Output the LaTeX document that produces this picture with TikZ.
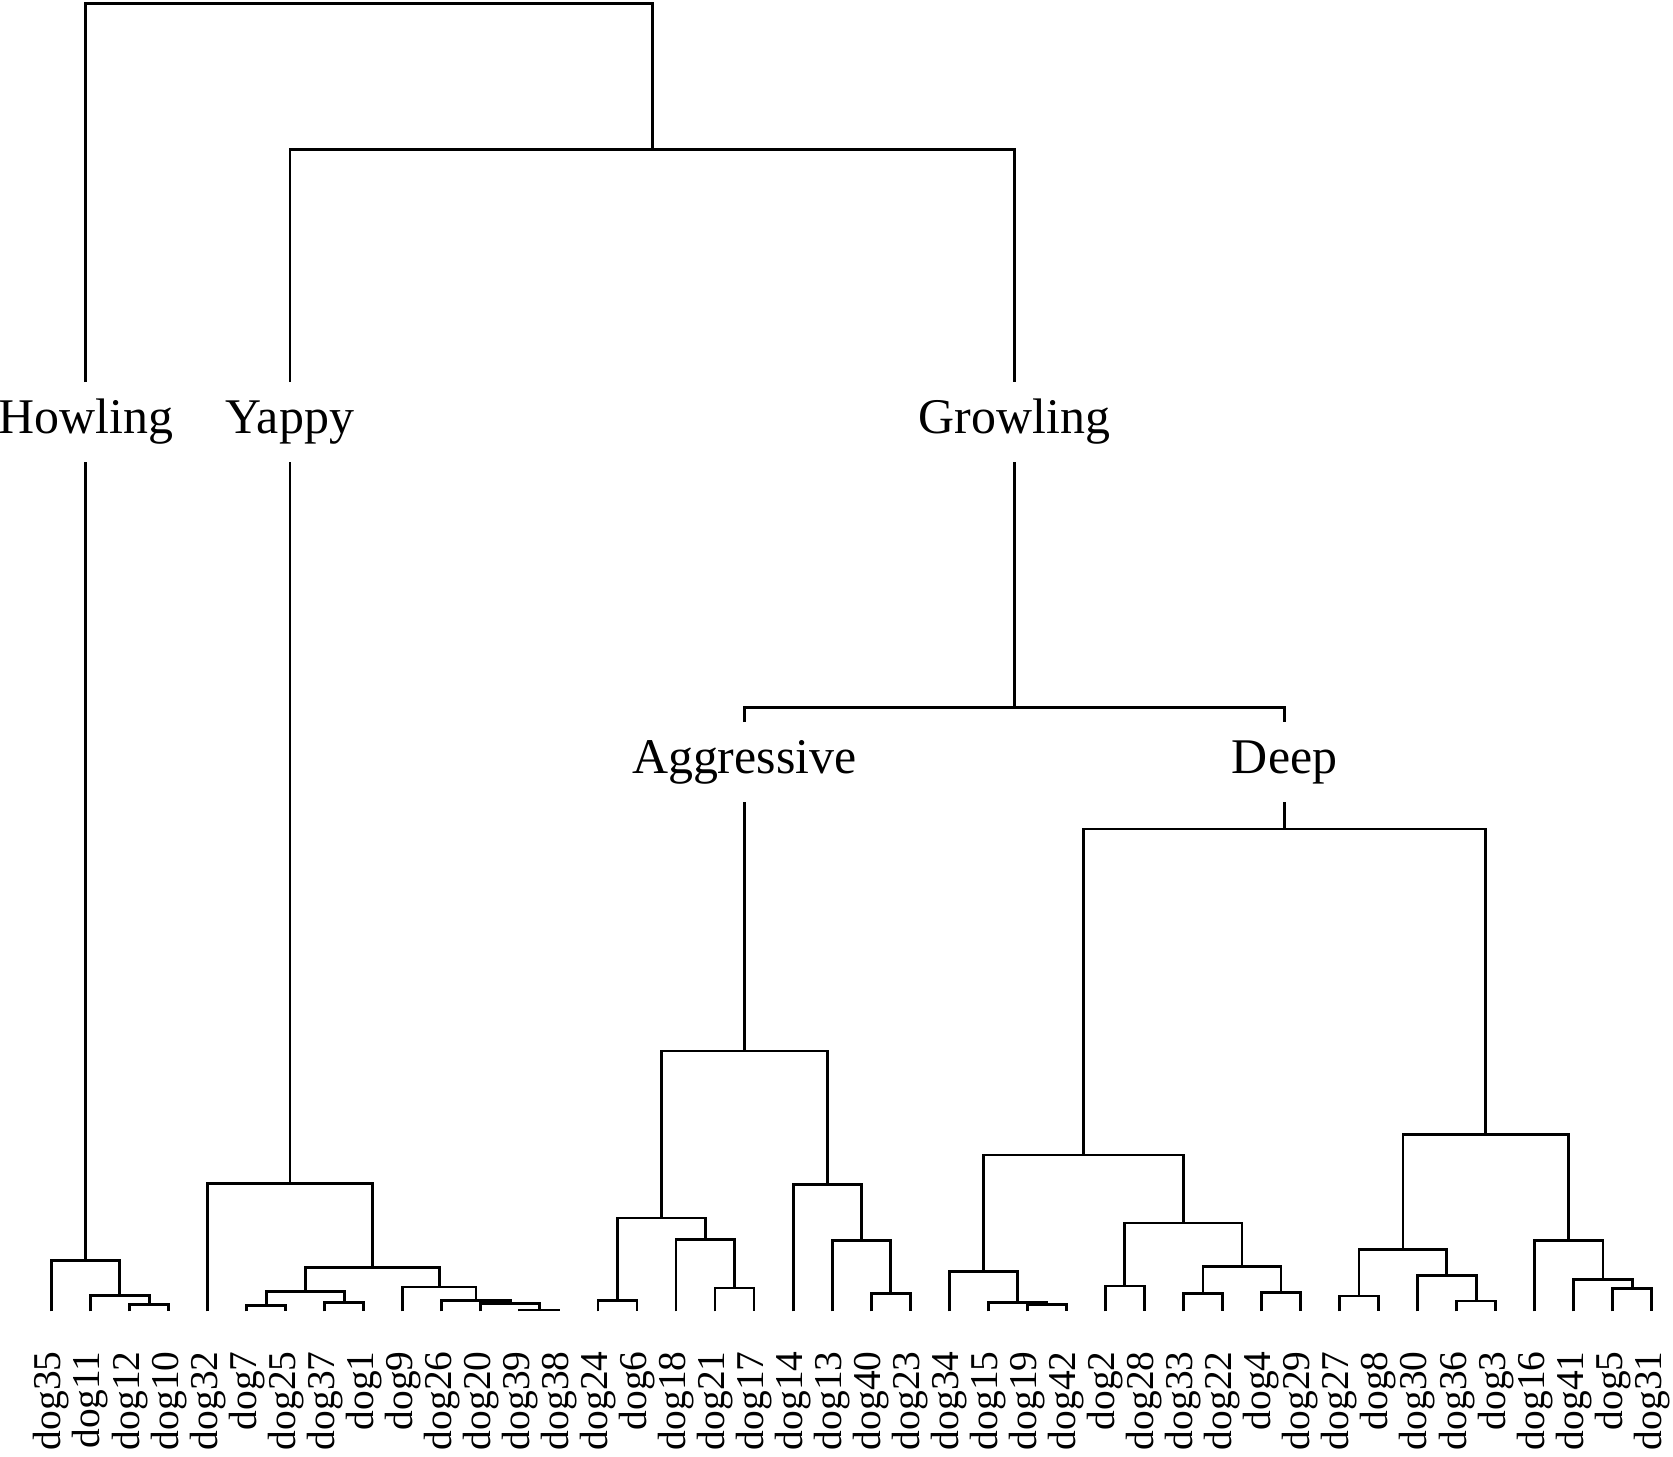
\documentclass[tikz,border=0pt]{standalone}
\usepackage{fontspec}
\setmainfont{Liberation Serif}
\usetikzlibrary{calc}

\tikzset{
    branch/.style={line width=0.75pt},
    leaflbl/.style={rotate=90, anchor=east, inner sep=0pt, font=\fontsize{10.5}{12}\selectfont},
    grouplbl/.style={anchor=base, inner sep=4pt, text height=9.4pt, text depth=3.4pt, font=\fontsize{13.3}{15}\selectfont}
}

% merge point half way between two children, at a given height
\newcommand{\mergeat}[4]{%
    \coordinate (#1-x) at ($(#2)!0.5!(#3)$);
    \coordinate (#1-y) at (0,#4);
    \coordinate (#1) at (#1-x |- #1-y);
}
\newcommand{\joinat}[4]{%
    \mergeat{#1}{#2}{#3}{#4}
    \draw[branch] (#2) |- (#1) -| (#3);
}

\begin{document}
\begin{tikzpicture}[x=0.01cm, y=-0.01cm]
    \useasboundingbox (0,0) rectangle (1568,1365);

    % Leaves
    \foreach \dg [count=\i from 0] in {35,11,12,10,32,7,25,37,1,9,26,20,39,38,24,6,18,21,17,14,13,40,23,34,15,19,42,2,28,33,22,4,29,27,8,30,36,3,16,41,5,31} {
        \coordinate (d\dg) at ({48.3+36.58*\i},1229);
        \node[leaflbl] (n\dg) at ({48.3+36.58*\i},1266) {dog\dg};
    }

    % Howling
    \joinat{h1}{d12}{d10}{1222.4}
    \joinat{h2}{d11}{h1}{1214}
    \joinat{howc}{d35}{h2}{1181.5}

    % Yappy
    \joinat{y1}{d7}{d25}{1223.3}
    \joinat{y2}{d37}{d1}{1220.9}
    \joinat{y3}{y1}{y2}{1210.6}
    \joinat{y4}{d39}{d38}{1227.7}
    \joinat{y5}{d20}{y4}{1221.5}
    \joinat{y6}{d26}{y5}{1218.5}
    \joinat{y7}{d9}{y6}{1206.2}
    \joinat{y8}{y3}{y7}{1187.6}
    \joinat{yapc}{d32}{y8}{1109}

    % Aggressive
    \joinat{a1}{d24}{d6}{1218.7}
    \joinat{a2}{d21}{d17}{1207.2}
    \joinat{a3}{d18}{a2}{1161.8}
    \joinat{a4}{a1}{a3}{1141.5}
    \joinat{a5}{d40}{d23}{1212.1}
    \joinat{a6}{d13}{a5}{1162.4}
    \joinat{a7}{d14}{a6}{1109.8}
    \joinat{agc}{a4}{a7}{985}

    % Deep
    \joinat{e1}{d19}{d42}{1222.5}
    \joinat{e2}{d15}{e1}{1221}
    \joinat{e3}{d34}{e2}{1191.9}
    \joinat{e4}{d2}{d28}{1205.3}
    \joinat{e5}{d33}{d22}{1212.1}
    \joinat{e6}{d4}{d29}{1211.5}
    \joinat{e7}{e5}{e6}{1187.3}
    \joinat{e8}{e4}{e7}{1146.2}
    \joinat{e9}{e3}{e8}{1082.5}
    \joinat{f1}{d27}{d8}{1214.6}
    \joinat{f2}{d36}{d3}{1219.3}
    \joinat{f3}{d30}{f2}{1195.3}
    \joinat{f4}{f1}{f3}{1171.1}
    \joinat{f5}{d5}{d31}{1207.8}
    \joinat{f6}{d41}{f5}{1199.1}
    \joinat{f7}{d16}{f6}{1162.4}
    \joinat{f8}{f4}{f7}{1063}
    \joinat{dpc}{e9}{f8}{777}

    % Top levels
    \mergeat{gr}{agc}{dpc}{663}
    \mergeat{yg}{yapc}{gr}{140}
    \mergeat{root}{howc}{yg}{3}

    % Group labels
    \coordinate (row1) at (0,406);
    \coordinate (row2) at (0,724.5);
    \node[grouplbl] (howl) at (howc |- row1) {Howling};
    \node[grouplbl] (yap) at (yapc |- row1) {Yappy};
    \node[grouplbl] (growl) at (gr |- row1) {Growling};
    \node[grouplbl] (aggr) at (agc |- row2) {Aggressive};
    \node[grouplbl] (deep) at (dpc |- row2) {Deep};

    \draw[branch] (howc) -- (howl.south);
    \draw[branch] (yapc) -- (yap.south);
    \draw[branch] (gr) -- (growl.south);
    \draw[branch] (agc) -- (aggr.south);
    \draw[branch] (dpc) -- (deep.south);
    \draw[branch] (aggr.north) |- (gr) -| (deep.north);
    \draw[branch] (yap.north) |- (yg) -| (growl.north);
    \draw[branch] (howl.north) |- (root) -| (yg);
\end{tikzpicture}
\end{document}
